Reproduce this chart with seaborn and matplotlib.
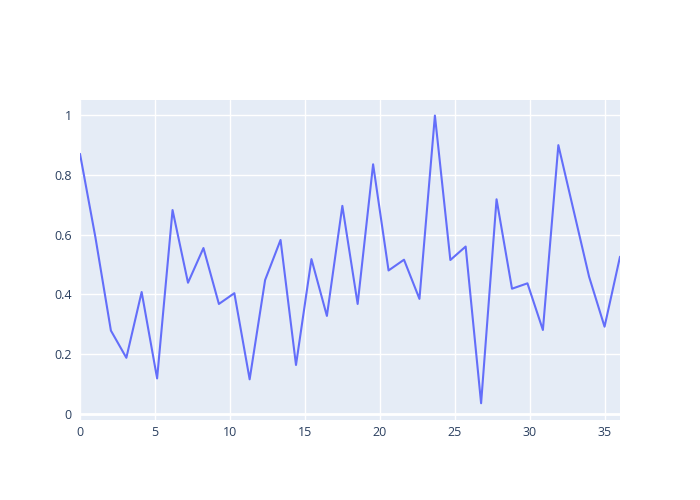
import matplotlib
matplotlib.use("Agg")
import matplotlib.pyplot as plt
import seaborn as sns
import pandas as pd

# values (36 evenly spaced points over 0..36)
x_vals = [0.00, 1.03, 2.06, 3.09, 4.11, 5.14, 6.17, 7.20, 8.23, 9.26,
          10.29, 11.31, 12.34, 13.37, 14.40, 15.43, 16.46, 17.49, 18.51, 19.54,
          20.57, 21.60, 22.63, 23.66, 24.69, 25.71, 26.74, 27.77, 28.80, 29.83,
          30.86, 31.89, 32.91, 33.94, 34.97, 36.00]
y_vals = [0.870, 0.590, 0.279, 0.188, 0.408, 0.119, 0.682, 0.439, 0.555, 0.368,
          0.404, 0.116, 0.448, 0.582, 0.164, 0.518, 0.328, 0.696, 0.368, 0.835,
          0.480, 0.516, 0.385, 0.998, 0.515, 0.560, 0.036, 0.718, 0.419, 0.437,
          0.281, 0.899, 0.680, 0.459, 0.292, 0.526]
x_ticks = [0, 5, 10, 15, 20, 25, 30, 35]
y_ticks = [0, 0.2, 0.4, 0.6, 0.8, 1]
y_labels = ["0", "0.2", "0.4", "0.6", "0.8", "1"]

df = pd.DataFrame({"x": x_vals, "y": y_vals})

sns.set_theme(style="darkgrid", rc={
    "axes.facecolor": "#E5ECF6",
    "grid.color": "white",
    "grid.linewidth": 1.0,
    "axes.edgecolor": "none",
})
plt.rcParams["font.family"] = ["Open Sans", "DejaVu Sans"]

fig = plt.figure(figsize=(7, 5), dpi=100)
ax = fig.add_axes([80 / 700, 80 / 500, 540 / 700, 320 / 500])

sns.lineplot(data=df, x="x", y="y", color="#636EFA", linewidth=1.5, ax=ax)

ax.set_xlim(0, 36)
ax.set_ylim(-0.02, 1.05)
ax.set_xticks(x_ticks)
ax.set_yticks(y_ticks)
ax.set_yticklabels(y_labels)
ax.axhline(0, color="white", linewidth=2, zorder=1)
ax.tick_params(axis="both", length=0, labelsize=9, labelcolor="#2a3f5f")
ax.tick_params(axis="y", pad=6)
ax.tick_params(axis="x", pad=4)
ax.set_xlabel("")
ax.set_ylabel("")
for s in ax.spines.values():
    s.set_visible(False)

fig.savefig("out.png", dpi=100)
